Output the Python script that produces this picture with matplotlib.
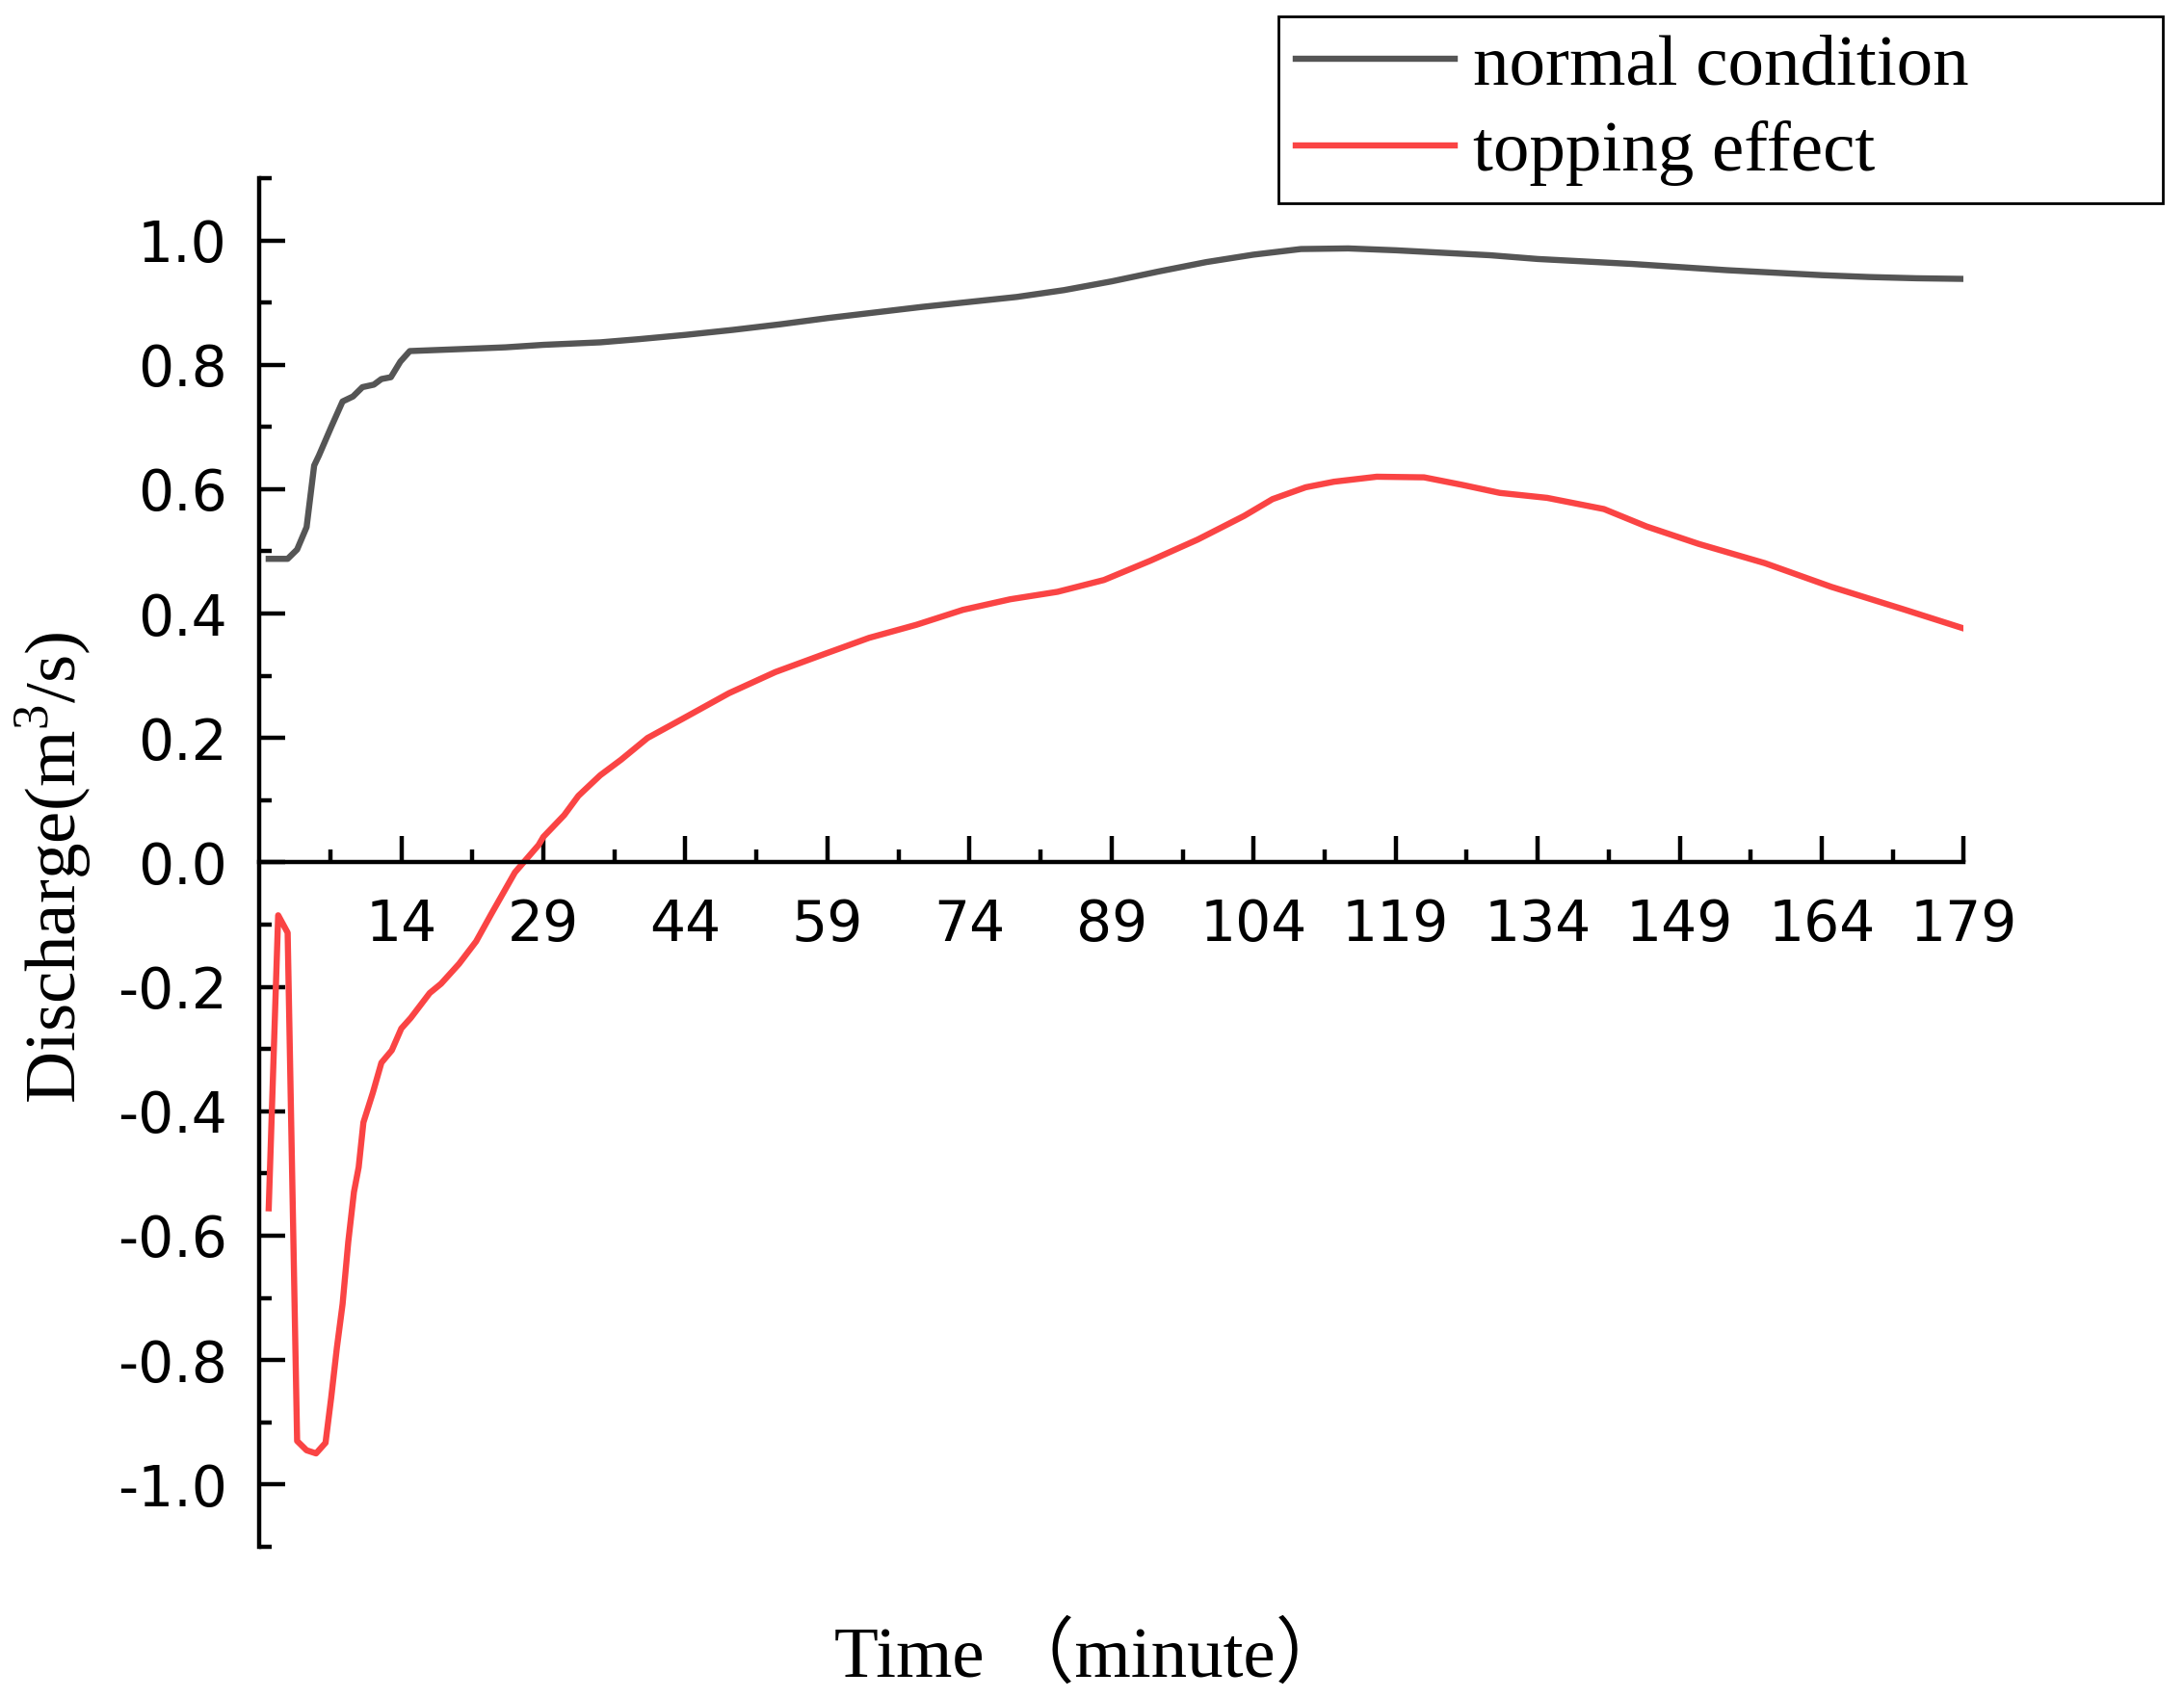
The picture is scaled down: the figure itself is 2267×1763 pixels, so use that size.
### Discharge over time: normal condition vs topping effect
import matplotlib
matplotlib.use("Agg")
import matplotlib.pyplot as plt
import numpy as np

### DATA ###
# Time in minutes, discharge in m3/s
normal_time = [0, 1, 2, 3, 4, 4.8, 5.3, 6.6, 7.8, 8.9, 9.9, 11.1, 11.9, 12.9,
               13.9, 14.9, 20, 25, 29, 35, 39, 44, 49, 54, 59, 64, 69, 74, 79,
               84, 89, 94, 99, 104, 109, 114, 119, 124, 129, 134, 139, 144,
               149, 154, 159, 164, 169, 174, 179]
normal_value = [0.488, 0.488, 0.488, 0.503, 0.539, 0.638, 0.654, 0.700, 0.741,
                0.749, 0.764, 0.768, 0.777, 0.780, 0.805, 0.822, 0.825, 0.828,
                0.832, 0.836, 0.841, 0.848, 0.856, 0.865, 0.875, 0.884, 0.893,
                0.901, 0.909, 0.920, 0.934, 0.950, 0.965, 0.977, 0.986, 0.987,
                0.984, 0.980, 0.976, 0.970, 0.966, 0.962, 0.957, 0.952, 0.948,
                0.944, 0.941, 0.939, 0.938]

topping_time = [0, 1, 2, 3, 4, 5, 6, 6.6, 7.2, 7.8, 8.4, 9.0, 9.5, 10.0, 11.0,
                11.9, 13.0, 14, 15, 17, 18.2, 20.1, 21.9, 23.5, 26, 28.5, 29,
                31.2, 32.7, 35, 37.2, 40, 43.6, 48.6, 53.5, 58.5, 63.4, 68.4,
                73.3, 78.3, 83.3, 88.2, 93.1, 98.1, 103, 106, 109.5, 112.5, 117,
                122, 126, 130, 135, 141, 145.5, 151, 158, 165, 172.6, 179]
topping_value = [-0.556, -0.085, -0.113, -0.930, -0.945, -0.950, -0.933, -0.860,
                 -0.780, -0.710, -0.610, -0.530, -0.490, -0.418, -0.370, -0.322,
                 -0.302, -0.267, -0.250, -0.210, -0.195, -0.163, -0.127, -0.083,
                 -0.016, 0.028, 0.041, 0.076, 0.107, 0.140, 0.165, 0.200, 0.230,
                 0.272, 0.306, 0.334, 0.361, 0.382, 0.406, 0.423, 0.435, 0.454,
                 0.485, 0.519, 0.557, 0.584, 0.603, 0.612, 0.620, 0.619, 0.607,
                 0.594, 0.586, 0.568, 0.540, 0.512, 0.481, 0.443, 0.407, 0.376]

series_labels = ["normal condition", "topping effect"]
series_colors = ["#555555", "#fa4444"]

x_major_ticks = list(range(14, 180, 15))
x_minor_ticks = [t - 7.5 for t in x_major_ticks]
y_major_ticks = [-1.0, -0.8, -0.6, -0.4, -0.2, 0.0, 0.2, 0.4, 0.6, 0.8, 1.0]
y_minor_ticks = [-1.1, -0.9, -0.7, -0.5, -0.3, -0.1, 0.1, 0.3, 0.5, 0.7, 0.9, 1.1]
y_tick_labels = ["-1.0", "-0.8", "-0.6", "-0.4", "-0.2", "0.0",
                 "0.2", "0.4", "0.6", "0.8", "1.0"]

### STYLE ###
plt.rcParams['axes.unicode_minus'] = False
plt.rcParams['mathtext.fontset'] = 'custom'
plt.rcParams['mathtext.rm'] = 'Liberation Serif'
serif = ['Liberation Serif', 'Noto Sans CJK SC', 'DejaVu Sans']

fig = plt.figure(figsize=(11.335, 8.815), dpi=200)
ax = fig.add_axes([0.1187, 0.0891, 0.7805, 0.806])

ax.plot(normal_time, normal_value, color=series_colors[0], lw=2.3,
        label=series_labels[0], solid_joinstyle='round')
ax.plot(topping_time, topping_value, color=series_colors[1], lw=2.3,
        label=series_labels[1], solid_joinstyle='round')

### AXES ###
ax.set_xlim(-1, 179)
ax.set_ylim(-1.1, 1.1)
ax.spines['top'].set_visible(False)
ax.spines['right'].set_visible(False)
ax.spines['bottom'].set_position(('data', 0))
for s in ['left', 'bottom']:
    ax.spines[s].set_linewidth(1.6)

ax.set_xticks(x_major_ticks)
ax.set_xticks(x_minor_ticks, minor=True)
ax.set_yticks(y_major_ticks)
ax.set_yticklabels(y_tick_labels)
ax.set_yticks(y_minor_ticks, minor=True)

ax.tick_params(which='both', direction='in', width=1.6, labelsize=21, colors='black')
ax.tick_params(which='major', length=9.6)
ax.tick_params(which='minor', length=4.6)
ax.tick_params(axis='x', pad=13)
ax.tick_params(axis='y', pad=12)

ax.set_ylabel(r'Discharge(m$^{\mathrm{3}}$/s)', fontsize=27, family=serif, va='center')
ax.yaxis.set_label_coords(-0.121, 0.496)
ax.set_xlabel('Time （minute）', fontsize=27, family=serif, va='baseline')
ax.xaxis.set_label_coords(0.488, -0.095)

### LEGEND ###
leg = ax.legend(loc='upper left', bbox_to_anchor=(0.5854, 0.0, 0.405, 0.9904),
                bbox_transform=fig.transFigure, mode='expand',
                prop={'family': 'Liberation Serif', 'size': 27},
                frameon=True, fancybox=False, framealpha=1, edgecolor='black',
                handlelength=2.2, handletextpad=0.25, borderpad=0.24,
                labelspacing=0.28, borderaxespad=0)
leg.get_frame().set_linewidth(1.0)

plt.savefig('out.png', dpi=200)
